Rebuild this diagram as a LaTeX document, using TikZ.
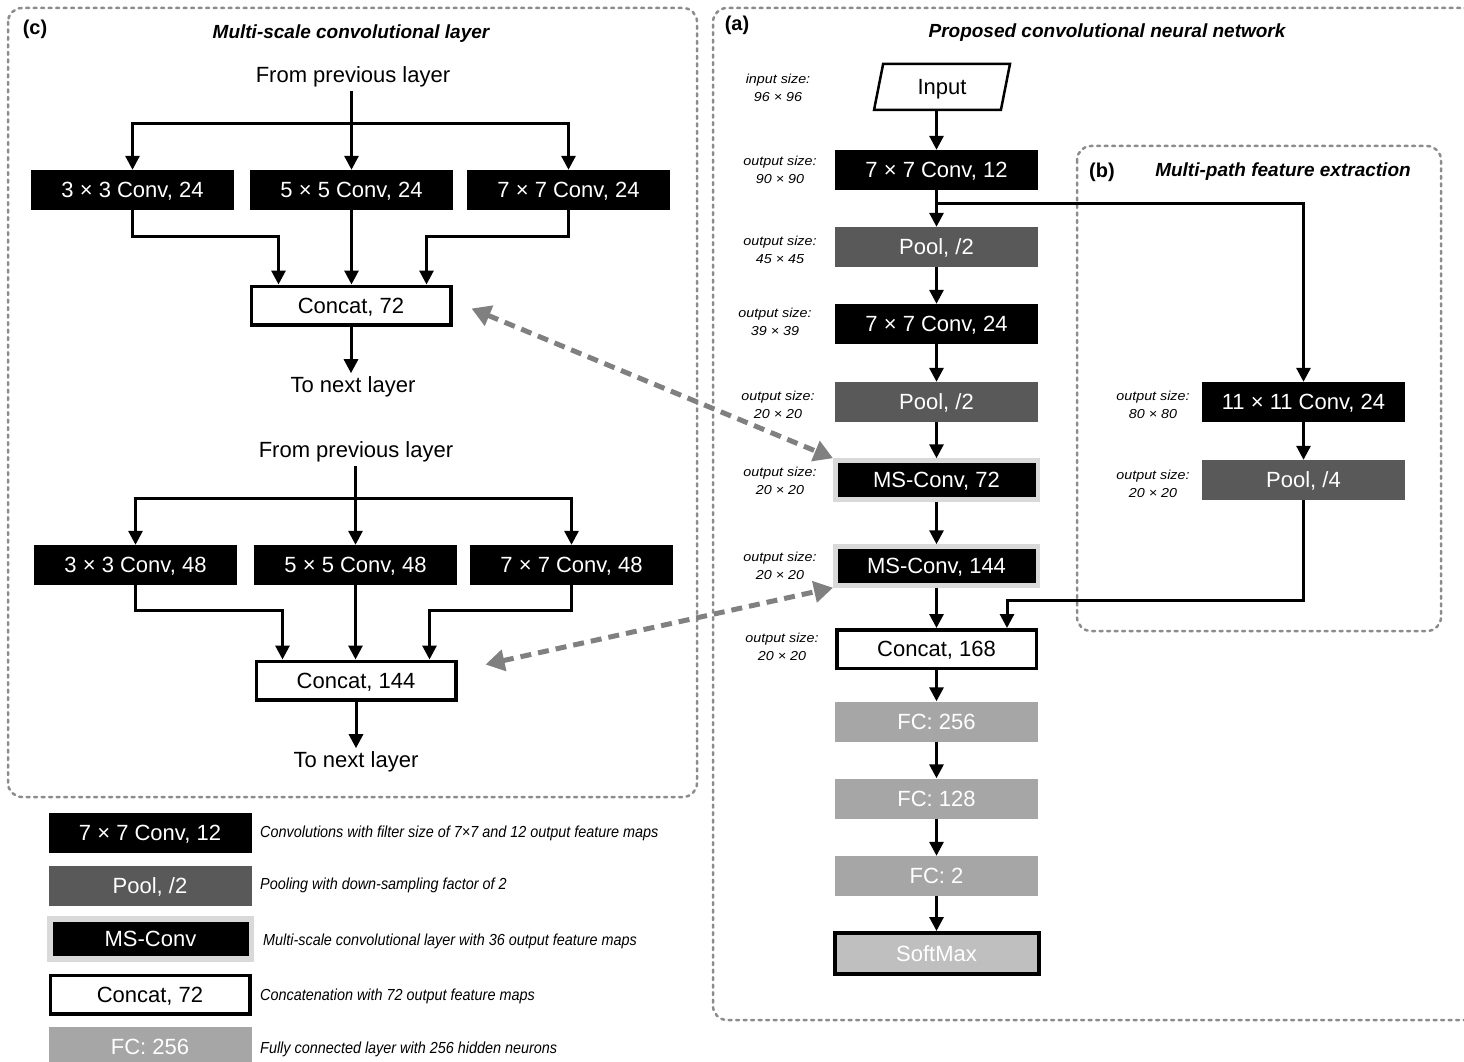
\documentclass[tikz,border=0pt]{standalone}
\usepackage{fontspec}
\setmainfont{Liberation Sans}
\newfontfamily\widefont[FakeStretch=1.1]{Liberation Sans}
\newfontfamily\legfont[FakeStretch=0.9]{Liberation Sans}
\usetikzlibrary{arrows.meta,shapes.geometric,calc}

\definecolor{poolgray}{HTML}{595959}
\definecolor{fcgray}{HTML}{A6A6A6}
\definecolor{smgray}{HTML}{BFBFBF}
\definecolor{msrim}{HTML}{D9D9D9}
\definecolor{framegray}{HTML}{8C8C8C}
\definecolor{linkgray}{HTML}{808080}

\tikzset{
  blk/.style={inner sep=0pt, minimum width=203pt, minimum height=40pt,
    text depth=0pt, font=\fontsize{22}{24}\selectfont, text=white},
  convbox/.style={blk, fill=black},
  poolbox/.style={blk, fill=poolgray},
  fcbox/.style={blk, fill=fcgray},
  msbox/.style={blk, fill=black, draw=msrim, line width=4.5pt,
    minimum width=202.5pt, minimum height=39pt},
  catbox/.style={blk, fill=white, text=black, draw=black, line width=3.5pt,
    minimum width=199.5pt, minimum height=38.5pt},
  smbox/.style={catbox, fill=smgray, text=white, line width=4pt,
    minimum width=204pt, minimum height=41pt},
  plain/.style={font=\fontsize{22}{24}\selectfont},
  sizelbl/.style={align=center, inner sep=0pt,
    font=\widefont\itshape\fontsize{13}{18}\selectfont},
  legtxt/.style={anchor=west, inner sep=0pt,
    font=\legfont\itshape\fontsize{16}{18}\selectfont},
  ttl/.style={font=\bfseries\itshape\fontsize{19}{21}\selectfont},
  tag/.style={font=\bfseries\fontsize{20}{22}\selectfont},
  link/.style={line width=3pt, draw=black},
  arr/.style={link, -{Triangle[length=14pt,width=14pt]}},
  arrboth/.style={link, {Triangle[length=14pt,width=14pt]}-{Triangle[length=14pt,width=14pt]}},
  frame/.style={draw=framegray, line width=2.5pt, dash pattern=on 3pt off 4.5pt,
    line cap=round, rounded corners=14pt},
  twoway/.style={draw=linkgray, line width=5pt, dash pattern=on 11pt off 7pt,
    {Triangle[length=19pt,width=21pt]}-{Triangle[length=19pt,width=21pt]}},
}

\begin{document}
\begin{tikzpicture}[x=1pt,y=-1pt]
\useasboundingbox (0,0) rectangle (1464,1062);

% ---------- panel frames ----------
\draw[frame] (8,8) rectangle (697,797);
\draw[frame] (1475,8) -- (713,8) -- (713,1020) -- (1475,1020);
\draw[frame] (1077,146) rectangle (1441,631);

% ---------- panel titles ----------
\node[tag] (tagc) at (35,29) {(c)};
\node[ttl] (ttlc) at (351,34) {Multi-scale convolutional layer};
\node[tag] (taga) at (737,25) {(a)};
\node[ttl] (ttla) at (1107,33) {Proposed convolutional neural network};
\node[tag] (tagb) at (1102,172) {(b)};
\node[ttl] (ttlb) at (1283,172) {Multi-path feature extraction};

% ---------- (c) multi-scale layer, first instance ----------
\node[plain] (fp1) at (353,77) {From previous layer};
\node[convbox] (ca3) at (132.5,190) {3 × 3 Conv, 24};
\node[convbox] (ca5) at (351.5,190) {5 × 5 Conv, 24};
\node[convbox] (ca7) at (568.5,190) {7 × 7 Conv, 24};
\node[catbox] (cc1) at (351,305.5) {Concat, 72};
\node[plain] (tn1) at (353,387) {To next layer};
\coordinate (bar1) at (351.5,124);

\draw[arr] (fp1.south -| ca5.north) -- (ca5.north);
\draw[arrboth] (ca3.north) |- (bar1) -| (ca7.north);
\draw[arr] (ca3.south) -- ++(0,26) -| ([xshift=29pt]cc1.north west);
\draw[arr] (ca5.south) -- (ca5.south |- cc1.north);
\draw[arr] (ca7.south) -- ++(0,26) -| ([xshift=-26pt]cc1.north east);
\draw[arr] (cc1.south) -- (cc1.south |- tn1.north);

% ---------- (c) multi-scale layer, second instance ----------
\node[plain] (fp2) at (356,452) {From previous layer};
\node[convbox] (cb3) at (135.5,565) {3 × 3 Conv, 48};
\node[convbox] (cb5) at (355.5,565) {5 × 5 Conv, 48};
\node[convbox] (cb7) at (571.5,565) {7 × 7 Conv, 48};
\node[catbox] (cc2) at (356,680.5) {Concat, 144};
\node[plain] (tn2) at (356,762) {To next layer};
\coordinate (bar2) at (355.5,498);

\draw[arr] (fp2.south -| cb5.north) -- (cb5.north);
\draw[arrboth] (cb3.north) |- (bar2) -| (cb7.north);
\draw[arr] (cb3.south) -- ++(0,25) -| ([xshift=28pt]cc2.north west);
\draw[arr] (cb5.south) -- (cb5.south |- cc2.north);
\draw[arr] (cb7.south) -- ++(0,25) -| ([xshift=-28pt]cc2.north east);
\draw[arr] (cc2.south) -- (cc2.south |- tn2.north);

% ---------- (a) main network ----------
\node[trapezium, trapezium left angle=76, trapezium right angle=104,
      trapezium stretches=true, draw=black, line width=2.5pt, fill=white,
      minimum width=136pt, minimum height=46pt, inner sep=0pt, text depth=0pt,
      font=\fontsize{22}{24}\selectfont] (inp) at (942,87) {Input};
\node[convbox] (c12) at (936.5,170) {7 × 7 Conv, 12};
\node[poolbox] (p1) at (936.5,247) {Pool, /2};
\node[convbox] (c24) at (936.5,324) {7 × 7 Conv, 24};
\node[poolbox] (p2) at (936.5,402) {Pool, /2};
\node[msbox] (ms72) at (936.5,480) {MS-Conv, 72};
\node[msbox] (ms144) at (936.5,566) {MS-Conv, 144};
\node[catbox] (cat) at (936.5,649) {Concat, 168};
\node[fcbox] (fc1) at (936.5,721.5) {FC: 256};
\node[fcbox] (fc2) at (936.5,798.5) {FC: 128};
\node[fcbox] (fc3) at (936.5,876) {FC: 2};
\node[smbox] (sm) at (936.5,953.5) {SoftMax};

\draw[arr] (c12.north |- inp.south) -- (c12.north);
\draw[arr] (c12) -- (p1);
\draw[arr] (p1) -- (c24);
\draw[arr] (c24) -- (p2);
\draw[arr] (p2) -- (ms72);
\draw[arr] (ms72) -- (ms144);
\draw[arr] (ms144) -- (cat);
\draw[arr] (cat) -- (fc1);
\draw[arr] (fc1) -- (fc2);
\draw[arr] (fc2) -- (fc3);
\draw[arr] (fc3) -- (sm);

% ---------- (b) parallel path ----------
\node[convbox] (k11) at (1303.5,402) {11 × 11 Conv, 24};
\node[poolbox] (p4) at (1303.5,480) {Pool, /4};
\draw[arr] ([yshift=-13pt]c12.south) -| (k11.north);
\draw[arr] (k11) -- (p4);
\draw[arr] (p4.south) -- ++(0,100) -| ([xshift=-31pt]cat.north east);

% ---------- feature map sizes ----------
\node[sizelbl] (s0) at (778,88) {input size:\\96 × 96};
\node[sizelbl] (s1) at (780,170) {output size:\\90 × 90};
\node[sizelbl] (s2) at (780,250) {output size:\\45 × 45};
\node[sizelbl] (s3) at (775,322) {output size:\\39 × 39};
\node[sizelbl] (s4) at (778,405) {output size:\\20 × 20};
\node[sizelbl] (s5) at (780,481) {output size:\\20 × 20};
\node[sizelbl] (s6) at (780,566) {output size:\\20 × 20};
\node[sizelbl] (s7) at (782,647) {output size:\\20 × 20};
\node[sizelbl] (s8) at (1153,405) {output size:\\80 × 80};
\node[sizelbl] (s9) at (1153,484) {output size:\\20 × 20};

% ---------- links between (a) and (c) ----------
\draw[twoway] ([xshift=19pt,yshift=-3pt]cc1.east) -- (ms72.north west);
\draw[twoway] ([xshift=28pt,yshift=16pt]cc2.east) -- (ms144.south west);

% ---------- legend ----------
\node[convbox] (lg1) at (150,833) {7 × 7 Conv, 12};
\node[poolbox] (lg2) at (150,886) {Pool, /2};
\node[msbox, line width=5.5pt, minimum width=201.5pt, minimum height=40pt] (lg3) at (150.5,939) {MS-Conv};
\node[catbox] (lg4) at (150,994.5) {Concat, 72};
\node[fcbox] (lg5) at (150,1047) {FC: 256};
\node[legtxt] (lt1) at (260,833) {Convolutions with filter size of 7×7 and 12 output feature maps};
\node[legtxt] (lt2) at (260,885) {Pooling with down-sampling factor of 2};
\node[legtxt] (lt3) at (263,941) {Multi-scale convolutional layer with 36 output feature maps};
\node[legtxt] (lt4) at (260,996) {Concatenation with 72 output feature maps};
\node[legtxt] (lt5) at (260,1049) {Fully connected layer with 256 hidden neurons};
\end{tikzpicture}
\end{document}
